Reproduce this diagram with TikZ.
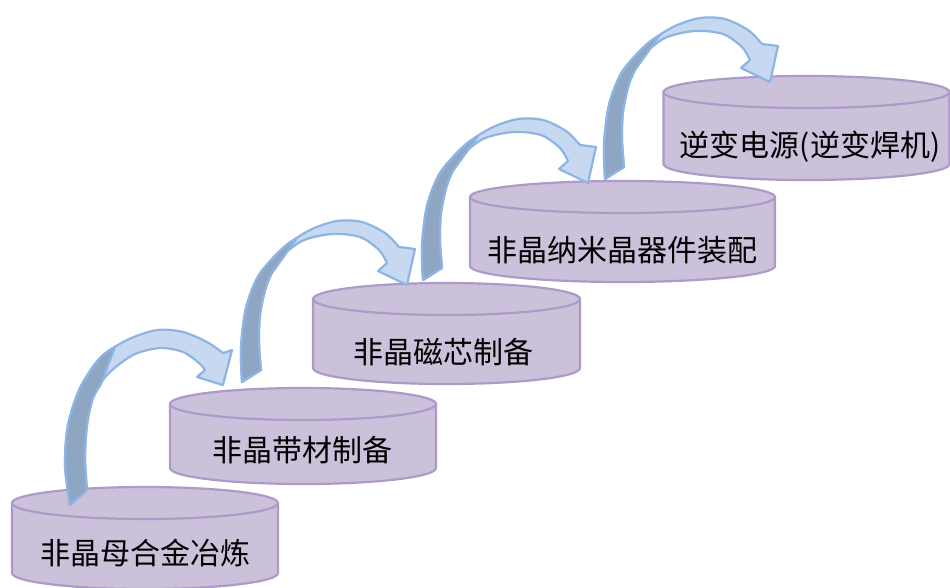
\documentclass[tikz,border=0pt]{standalone}
\usepackage{fontspec}
\newfontfamily\cjk{Noto Sans CJK SC}
\definecolor{cylfill}{HTML}{CCC1DA}
\definecolor{cylline}{HTML}{AC9AC8}
\definecolor{rlight}{HTML}{C6D9F1}
\definecolor{rline}{HTML}{8DB4E2}
\definecolor{rdark}{HTML}{8FA6C3}
\tikzset{
  cylshape/.style={fill=cylfill, draw=cylline, line width=2.2pt, line join=round},
  ribbonlight/.style={fill=rlight, draw=rline, line width=2.2pt, line join=round},
  ribbondark/.style={fill=rdark, draw=rline, line width=2.2pt, line join=round},
  cyltext/.style={font=\cjk\fontsize{30}{30}\selectfont, text=black, inner sep=0pt}
}
% cx, top centre y, rx, ry, bottom centre y
\newcommand\cyl[5]{%
  \filldraw[cylshape] ({#1-#3},#2) -- ({#1-#3},#5)
     arc[start angle=180,end angle=0,x radius=#3,y radius=#4] -- ({#1+#3},#2) -- cycle;
  \filldraw[cylshape] (#1,#2) ellipse[x radius=#3, y radius=#4];
}
\newcommand\ribbonstd{%
  \filldraw[ribbonlight] plot[smooth] coordinates {(-165,97) (-166,63) (-161,23) (-148,-10) (-124,-37) (-97,-55) (-70,-64) (-45,-63) (-22,-52) (-8,-38)}
     -- (8,-36) -- (0,0) -- (-29,-14)
     -- plot[smooth] coordinates {(-20,-22) (-28,-35) (-47,-48) (-75,-51) (-105,-44) (-128,-25) (-141,2) (-147,30) (-148,58) (-146,85)} -- cycle;
  \filldraw[ribbondark] plot[smooth] coordinates {(-165,97) (-166,63) (-161,23) (-148,-10) (-124,-37) (-110,-47)}
     -- plot[smooth] coordinates {(-135,-12) (-141,2) (-147,30) (-148,58) (-146,85)} -- cycle;
}
\begin{document}
\begin{tikzpicture}[x=1pt,y=-1pt]
\useasboundingbox (0,0) rectangle (950,587);
% cylinders
\cyl{145}{503}{133}{16}{573}
\cyl{303}{404}{133}{16}{468}
\cyl{446.5}{299}{133.5}{16}{368}
\cyl{622.5}{197}{152.5}{16}{266}
\cyl{806.5}{92}{143}{16}{164}
% labels
\node[cyltext] (c1) at (145,553) {非晶母合金冶炼};
\node[cyltext] (c2) at (302,450) {非晶带材制备};
\node[cyltext] (c3) at (443,352) {非晶磁芯制备};
\node[cyltext] (c4) at (622,250) {非晶纳米晶器件装配};
\node[cyltext] (c5) at (810,147) {逆变电源(逆变焊机)};
% arrow tips
\coordinate (t1) at (223,385);
\coordinate (t2) at (407,285);
\coordinate (t3) at (588,183);
\coordinate (t4) at (770,82);
% arrow 1
\begin{scope}[shift={(t1)}]
  \filldraw[ribbonlight] plot[smooth] coordinates {(-153,120) (-158,80) (-155,40) (-143,3) (-123,-27) (-96,-45) (-66,-55) (-40,-53) (-16,-43) (0,-32)}
     -- (9,-35) -- (0,0) -- (-26,-8)
     -- plot[smooth] coordinates {(-18,-15) (-24,-22) (-40,-33) (-63,-37) (-90,-30) (-116,-10) (-130,13) (-136,40) (-138,73) (-136,105)} -- cycle;
  \filldraw[ribbondark] plot[smooth] coordinates {(-153,120) (-158,80) (-155,40) (-143,3) (-123,-27) (-108,-38)}
     -- plot[smooth] coordinates {(-123,1) (-130,13) (-136,40) (-138,73) (-136,105)} -- cycle;
\end{scope}
\begin{scope}[shift={(t2)}]\ribbonstd\end{scope}
\begin{scope}[shift={(t3)}]\ribbonstd\end{scope}
\begin{scope}[shift={(t4)}]\ribbonstd\end{scope}
\end{tikzpicture}
\end{document}
